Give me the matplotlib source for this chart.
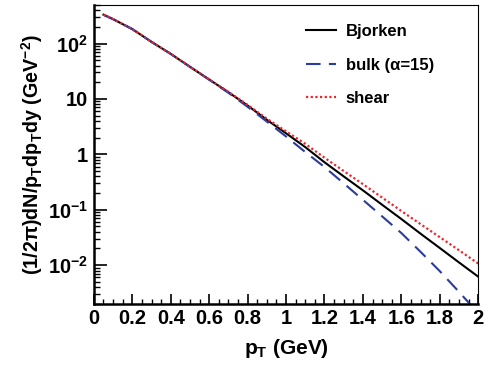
import matplotlib
matplotlib.use("Agg")
import matplotlib.pyplot as plt
from matplotlib.ticker import FixedLocator, FuncFormatter, MultipleLocator

plt.rcParams["font.family"] = ["Liberation Sans", "DejaVu Sans"]
plt.rcParams["font.weight"] = "bold"
plt.rcParams["axes.labelweight"] = "bold"
plt.rcParams["mathtext.fontset"] = "custom"
plt.rcParams["mathtext.rm"] = "Liberation Sans:bold"
plt.rcParams["mathtext.it"] = "Liberation Sans:bold"
plt.rcParams["mathtext.bf"] = "Liberation Sans:bold"
plt.rcParams["mathtext.default"] = "bf"

# transverse momentum grid (GeV)
pt = [0.05, 0.1, 0.2, 0.3, 0.4, 0.5, 0.6, 0.7, 0.8, 0.9, 1.0,
      1.1, 1.2, 1.3, 1.4, 1.5, 1.6, 1.7, 1.8, 1.9, 2.0]

# invariant yields (GeV^-2)
bjorken = [331, 275, 182, 107, 65, 38, 22.4, 13.2, 7.6, 4.2, 2.4,
           1.35, 0.72, 0.40, 0.224, 0.123, 0.068, 0.037, 0.0204, 0.0112, 0.0062]
bulk = [331, 275, 182, 107, 65, 38, 22.2, 12.9, 7.2, 3.9, 2.1,
        1.1, 0.59, 0.30, 0.151, 0.076, 0.038, 0.0174, 0.0078, 0.0033, 0.00135]
shear = [331, 275, 182, 107, 65, 38, 22.5, 13.4, 7.8, 4.4, 2.6,
         1.55, 0.87, 0.50, 0.29, 0.166, 0.095, 0.055, 0.032, 0.0186, 0.0107]

labels = ["Bjorken", "bulk (α=15)", "shear"]
colors = ["black", "#2c3c9c", "#e8282c"]

fig = plt.figure(figsize=(4.94, 3.67), dpi=100)
ax = fig.add_axes([0.190, 0.172, 0.778, 0.815])

ax.semilogy(pt, bjorken, color=colors[0], lw=1.5, label=labels[0])
ax.semilogy(pt, bulk, color=colors[1], lw=1.5, dashes=(7, 4), label=labels[1])
ax.semilogy(pt, shear, color=colors[2], lw=1.6, linestyle=(0, (1, 1.1)), label=labels[2])

ax.set_xlim(0, 2)
ax.set_ylim(0.002, 500)

ax.xaxis.set_major_locator(MultipleLocator(0.2))
ax.xaxis.set_minor_locator(MultipleLocator(0.05))
ax.xaxis.set_major_formatter(FuncFormatter(lambda v, p: f"{v:g}"))

decades = [1e-2, 1e-1, 1, 10, 1e2]
dec_labels = ["10$^{-2}$", "10$^{-1}$", "1", "10", "10$^{2}$"]
ax.yaxis.set_major_locator(FixedLocator(decades))
ax.yaxis.set_major_formatter(FuncFormatter(
    lambda v, p: dec_labels[decades.index(min(decades, key=lambda d: abs(d - v)))]))
minors = [m * d for d in [1e-3, 1e-2, 1e-1, 1, 10, 100] for m in range(2, 10)]
ax.yaxis.set_minor_locator(FixedLocator(minors))

ax.tick_params(which="both", direction="in", top=False, right=False,
               labelsize=14.5, width=1.2, pad=4)
ax.tick_params(axis="y", which="major", length=9)
ax.tick_params(axis="y", which="minor", length=4.5, width=1)
ax.tick_params(axis="x", which="major", length=7)
ax.tick_params(axis="x", which="minor", length=3.5, width=1)
for lab in ax.get_xticklabels() + ax.get_yticklabels():
    lab.set_fontweight("bold")

for side in ["left", "bottom"]:
    ax.spines[side].set_linewidth(1.8)
for side in ["top", "right"]:
    ax.spines[side].set_linewidth(0.8)

ax.set_xlabel("p$_{T}$ (GeV)", fontsize=15, fontweight="bold", labelpad=6)
ax.set_ylabel("(1/2π)dN/p$_{T}$dp$_{T}$dy (GeV$^{-2}$)", fontsize=14.2,
              fontweight="bold", labelpad=2)

leg = ax.legend(loc="upper left", bbox_to_anchor=(0.553, 0.935), frameon=False,
                borderpad=0, borderaxespad=0,
                prop={"size": 12, "weight": "bold"}, handlelength=1.8,
                handletextpad=0.55, labelspacing=1.1)

fig.savefig("out.png", dpi=100)
